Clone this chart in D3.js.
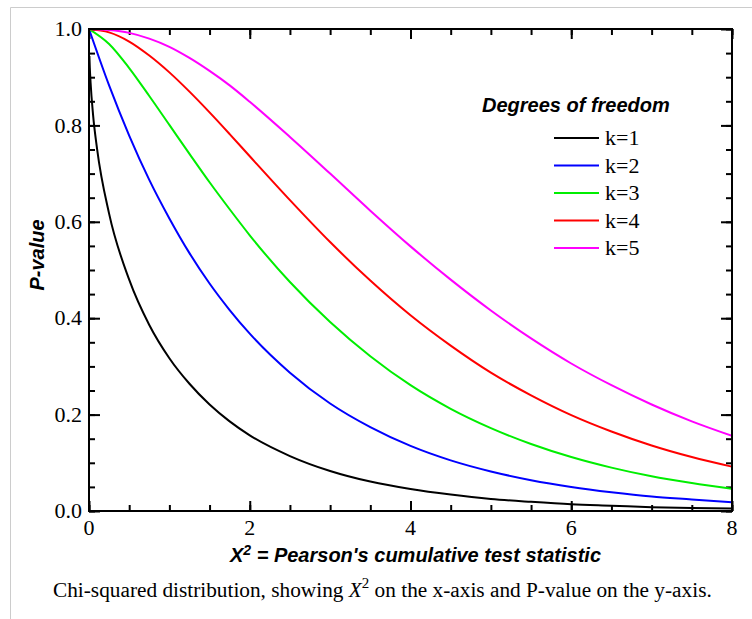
<!DOCTYPE html>
<html>
<head>
<meta charset="utf-8">
<script src="https://cdn.jsdelivr.net/npm/d3@7"></script>
<style>
	body { margin: 0; background: #fff; }
	svg { display: block; }
	.tick-label { font-family: "Liberation Serif", "Times New Roman", serif; font-size: 22px; fill: #000; }
	.axis-title { font-family: "Liberation Sans", Arial, sans-serif; font-size: 20px; font-weight: bold; font-style: italic; fill: #000; }
	.legend-label { font-family: "Liberation Serif", "Times New Roman", serif; font-size: 22px; fill: #000; }
	.caption { font-family: "Liberation Serif", "Times New Roman", serif; font-size: 21.3px; fill: #000; }
</style>
</head>
<body>
<svg id="chart" width="752" height="619"></svg>
<script>
// x positions (chi-squared statistic)
var xFine = [0.005, 0.01, 0.02, 0.05, 0.1, 0.25, 0.5, 0.75, 1, 1.25, 1.5, 1.75, 2, 2.5, 3, 3.5, 4, 4.5, 5, 5.5, 6, 6.5, 7, 7.5, 8];
var xGrid = [0, 0.25, 0.5, 0.75, 1, 1.25, 1.5, 1.75, 2, 2.5, 3, 3.5, 4, 4.5, 5, 5.5, 6, 6.5, 7, 7.5, 8];

// P-values for each degree of freedom
var pK1 = [0.944, 0.920, 0.888, 0.823, 0.752, 0.617, 0.480, 0.386, 0.317, 0.264, 0.221, 0.186, 0.157, 0.114, 0.083, 0.061, 0.0455, 0.034, 0.025, 0.019, 0.014, 0.011, 0.008, 0.006, 0.005];
var pK2 = [1.0, 0.883, 0.779, 0.687, 0.607, 0.535, 0.472, 0.417, 0.368, 0.287, 0.223, 0.174, 0.135, 0.105, 0.082, 0.064, 0.050, 0.039, 0.030, 0.024, 0.018];
var pK3 = [1.0, 0.969, 0.919, 0.861, 0.801, 0.741, 0.682, 0.626, 0.572, 0.475, 0.392, 0.321, 0.261, 0.212, 0.172, 0.139, 0.112, 0.090, 0.072, 0.058, 0.046];
var pK4 = [1.0, 0.993, 0.974, 0.945, 0.910, 0.870, 0.827, 0.782, 0.736, 0.645, 0.558, 0.478, 0.406, 0.343, 0.287, 0.240, 0.199, 0.165, 0.136, 0.112, 0.092];
var pK5 = [1.0, 0.998, 0.992, 0.980, 0.963, 0.940, 0.913, 0.883, 0.849, 0.776, 0.700, 0.623, 0.549, 0.480, 0.416, 0.358, 0.306, 0.261, 0.221, 0.186, 0.156];

var seriesNames = ["k=1", "k=2", "k=3", "k=4", "k=5"];
var seriesColors = ["#000000", "#0000ff", "#00ee00", "#ff0000", "#ff00ff"];

var xTicks = [0, 2, 4, 6, 8];
var yTicks = [0.0, 0.2, 0.4, 0.6, 0.8, 1.0];

var xTitle = "X";
var yTitle = "P-value";
var legendTitle = "Degrees of freedom";

var svg = d3.select("#chart");

// thumbnail frame (top and left grey lines)
svg.append("line")
	.attr("x1", 10.5).attr("x2", 752)
	.attr("y1", 7.5).attr("y2", 7.5)
	.attr("stroke", "#cccccc").attr("stroke-width", 1);
svg.append("line")
	.attr("x1", 10.5).attr("x2", 10.5)
	.attr("y1", 7.5).attr("y2", 619)
	.attr("stroke", "#cccccc").attr("stroke-width", 1);

// plot box edges (pixels)
var pLeft = 89, pRight = 732, pTop = 29, pBottom = 511;

var x = d3.scaleLinear().domain([0, 8]).range([pLeft, pRight]);
var y = d3.scaleLinear().domain([0, 1]).range([pBottom, pTop]);

var minorX = d3.range(0, 8.001, 0.5);
var minorY = d3.range(0, 1.001, 0.05);

// Draw inward ticks on one side
function ticks(axisFn, scale, values, size, tx, ty) {
	svg.append("g")
		.attr("transform", "translate(" + tx + "," + ty + ")")
		.call(axisFn(scale).tickValues(values).tickSize(size).tickSizeOuter(0).tickFormat(""))
		.call(function(g) {
			g.select(".domain").remove();
			g.selectAll(".tick text").remove();
			g.selectAll(".tick line").attr("stroke", "#000").attr("stroke-width", 2);
		});
}

ticks(d3.axisBottom, x, minorX, -6, 0, pBottom);
ticks(d3.axisBottom, x, xTicks, -10, 0, pBottom);
ticks(d3.axisTop, x, minorX, -6, 0, pTop);
ticks(d3.axisTop, x, xTicks, -10, 0, pTop);
ticks(d3.axisLeft, y, minorY, -6, pLeft, 0);
ticks(d3.axisLeft, y, yTicks, -11, pLeft, 0);
ticks(d3.axisRight, y, minorY, -6, pRight, 0);
ticks(d3.axisRight, y, yTicks, -11, pRight, 0);

// Clip curves to the plot box
svg.append("clipPath").attr("id", "plot-clip")
	.append("rect")
	.attr("x", pLeft).attr("y", pTop - 1)
	.attr("width", pRight - pLeft).attr("height", pBottom - pTop + 1);

var series = [
	{ xs: xFine, ys: pK1 },
	{ xs: xGrid, ys: pK2 },
	{ xs: xGrid, ys: pK3 },
	{ xs: xGrid, ys: pK4 },
	{ xs: xGrid, ys: pK5 }
];

var line = d3.line()
	.x(function(d) { return x(d[0]); })
	.y(function(d) { return y(d[1]); })
	.curve(d3.curveMonotoneX);

var curves = svg.append("g").attr("clip-path", "url(#plot-clip)");
series.forEach(function(s, i) {
	var pts = s.xs.map(function(v, j) { return [v, s.ys[j]]; });
	curves.append("path")
		.datum(pts)
		.attr("d", line)
		.attr("fill", "none")
		.attr("stroke", seriesColors[i])
		.attr("stroke-width", 2);
});

// Plot frame
svg.append("rect")
	.attr("x", pLeft).attr("y", pTop)
	.attr("width", pRight - pLeft).attr("height", pBottom - pTop)
	.attr("fill", "none").attr("stroke", "#000").attr("stroke-width", 2);

// Tick labels
svg.selectAll(".xlab").data(xTicks).enter().append("text")
	.attr("class", "tick-label")
	.attr("x", function(d) { return x(d); })
	.attr("y", pBottom + 24)
	.attr("text-anchor", "middle")
	.text(function(d) { return d; });

svg.selectAll(".ylab").data(yTicks).enter().append("text")
	.attr("class", "tick-label")
	.attr("x", pLeft - 7)
	.attr("y", function(d) { return y(d); })
	.attr("dy", "0.33em")
	.attr("text-anchor", "end")
	.text(function(d) { return d.toFixed(1); });

// Axis titles
var xt = svg.append("text")
	.attr("class", "axis-title")
	.attr("x", (pLeft + pRight) / 2 + 5)
	.attr("y", 562)
	.attr("text-anchor", "middle");
xt.append("tspan").text(xTitle);
xt.append("tspan").attr("dy", -7).attr("font-size", 14).text("2");
xt.append("tspan").attr("dy", 7).text(" = Pearson's cumulative test statistic");

svg.append("text")
	.attr("class", "axis-title")
	.attr("transform", "translate(44,255) rotate(-90)")
	.attr("text-anchor", "middle")
	.text(yTitle);

// Legend
svg.append("text")
	.attr("class", "axis-title")
	.attr("x", 482)
	.attr("y", 112)
	.text(legendTitle);

var legend = svg.selectAll(".legend").data(seriesNames).enter().append("g")
	.attr("transform", function(d, i) { return "translate(554," + (138 + i * 27.5) + ")"; });
legend.append("line")
	.attr("x1", 0).attr("x2", 45)
	.attr("y1", 0).attr("y2", 0)
	.attr("stroke", function(d, i) { return seriesColors[i]; })
	.attr("stroke-width", 2);
legend.append("text")
	.attr("class", "legend-label")
	.attr("x", 51)
	.attr("y", 7)
	.text(function(d) { return d; });

// Caption
var cap = svg.append("text")
	.attr("class", "caption")
	.attr("x", 53)
	.attr("y", 597);
cap.append("tspan").text("Chi-squared distribution, showing ");
cap.append("tspan").attr("font-style", "italic").text("X");
cap.append("tspan").attr("dy", -9).attr("font-size", 15).text("2");
cap.append("tspan").attr("dy", 9).text(" on the x-axis and P-value on the y-axis.");
</script>
</body>
</html>
